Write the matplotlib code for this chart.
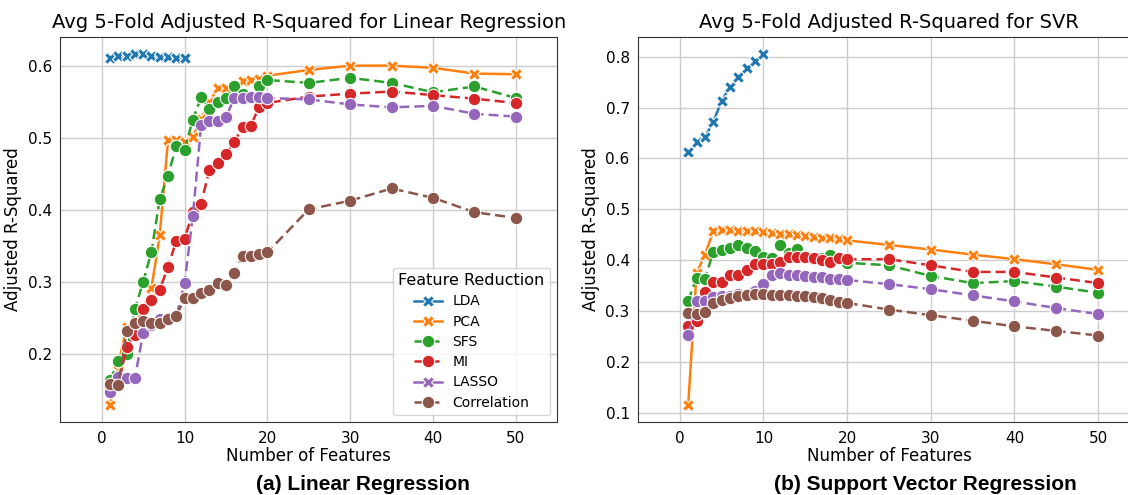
import numpy as np
import matplotlib
matplotlib.use("Agg")
import matplotlib.pyplot as plt
from matplotlib.lines import Line2D

# number of features
n_feat = list(range(1, 21)) + [25, 30, 35, 40, 45, 50]
n_lda = list(range(1, 11))

methods = ["LDA", "PCA", "SFS", "MI", "LASSO", "Correlation"]
colors = ["#1f77b4", "#ff7f0e", "#2ca02c", "#d62728", "#9467bd", "#8c564b"]

# Linear Regression - avg 5-fold adjusted R^2
lr_lda = [0.611, 0.615, 0.615, 0.617, 0.617, 0.615, 0.613, 0.613, 0.612, 0.612]
lr_pca = [0.129, 0.185, 0.237, 0.240, 0.262, 0.291, 0.365, 0.497, 0.497, 0.495,
          0.502, 0.527, 0.550, 0.570, 0.570, 0.572, 0.579, 0.581, 0.583, 0.587,
          0.595, 0.601, 0.601, 0.598, 0.590, 0.589]
lr_sfs = [0.163, 0.190, 0.200, 0.262, 0.300, 0.342, 0.415, 0.448, 0.489, 0.484,
          0.526, 0.557, 0.541, 0.551, 0.556, 0.572, 0.562, 0.557, 0.573, 0.581,
          0.577, 0.584, 0.577, 0.564, 0.572, 0.556]
lr_mi = [0.155, 0.157, 0.209, 0.226, 0.262, 0.275, 0.289, 0.321, 0.357, 0.360,
         0.397, 0.409, 0.456, 0.465, 0.478, 0.495, 0.515, 0.517, 0.544, 0.549,
         0.558, 0.562, 0.565, 0.560, 0.555, 0.549]
lr_lasso = [0.147, 0.168, 0.166, 0.166, 0.229, 0.240, 0.249, 0.250, 0.252, 0.298,
            0.392, 0.518, 0.524, 0.524, 0.529, 0.556, 0.556, 0.558, 0.557, 0.556,
            0.554, 0.547, 0.543, 0.545, 0.534, 0.530]
lr_corr = [0.158, 0.156, 0.231, 0.243, 0.246, 0.243, 0.243, 0.249, 0.252, 0.278,
           0.278, 0.284, 0.289, 0.298, 0.296, 0.313, 0.336, 0.336, 0.339, 0.341,
           0.401, 0.413, 0.430, 0.417, 0.397, 0.389]

# SVR - avg 5-fold adjusted R^2
svr_lda = [0.613, 0.633, 0.642, 0.672, 0.713, 0.741, 0.761, 0.778, 0.792, 0.805]
svr_pca = [0.116, 0.374, 0.411, 0.457, 0.460, 0.460, 0.458, 0.458, 0.458, 0.455,
           0.454, 0.452, 0.451, 0.449, 0.448, 0.445, 0.444, 0.443, 0.441, 0.439,
           0.430, 0.421, 0.411, 0.402, 0.392, 0.381]
svr_sfs = [0.320, 0.366, 0.364, 0.416, 0.421, 0.424, 0.430, 0.424, 0.419, 0.406,
           0.404, 0.430, 0.415, 0.423, 0.408, 0.402, 0.405, 0.411, 0.402, 0.395,
           0.390, 0.369, 0.355, 0.359, 0.348, 0.336]
svr_mi = [0.271, 0.280, 0.338, 0.358, 0.358, 0.371, 0.371, 0.380, 0.392, 0.393,
          0.393, 0.397, 0.407, 0.406, 0.406, 0.404, 0.400, 0.397, 0.404, 0.402,
          0.402, 0.390, 0.377, 0.377, 0.366, 0.355]
svr_lasso = [0.253, 0.320, 0.319, 0.327, 0.330, 0.330, 0.333, 0.334, 0.340, 0.354,
             0.370, 0.374, 0.371, 0.370, 0.368, 0.367, 0.367, 0.364, 0.363, 0.361,
             0.353, 0.343, 0.331, 0.319, 0.306, 0.294]
svr_corr = [0.296, 0.294, 0.299, 0.315, 0.322, 0.325, 0.329, 0.332, 0.333, 0.333,
            0.332, 0.331, 0.331, 0.330, 0.329, 0.327, 0.325, 0.322, 0.318, 0.316,
            0.303, 0.292, 0.281, 0.270, 0.261, 0.252]

markers = ["X", "X", "o", "o", "o", "o"]
solid = [True, True, False, False, False, False]


def draw(ax, series, title):
    for i, (name, ys) in enumerate(zip(methods, series)):
        xs = n_lda if name == "LDA" else n_feat
        ls = "-" if solid[i] else (0, (4, 2))
        ax.plot(xs, ys, color=colors[i], linestyle=ls, linewidth=1.8,
                marker=markers[i], markersize=9, markeredgecolor="white",
                markeredgewidth=0.8, label=name)
    ax.set_xlim(-5, 55)
    ax.set_title(title, fontsize=14)
    ax.set_xlabel("Number of Features", fontsize=12, labelpad=1)
    ax.set_ylabel("Adjusted R-Squared", fontsize=12)
    ax.grid(True, color="#cccccc", linewidth=1)
    ax.set_axisbelow(True)
    ax.tick_params(length=0, pad=6, labelsize=11)
    for s in ax.spines.values():
        s.set_color("#333333")


fig = plt.figure(figsize=(11.28, 4.95), dpi=100)
ax1 = fig.add_axes([0.0535, 0.147, 0.4405, 0.779])
ax2 = fig.add_axes([0.5656, 0.147, 0.445, 0.779])

draw(ax1, [lr_lda, lr_pca, lr_sfs, lr_mi, lr_lasso, lr_corr],
     "Avg 5-Fold Adjusted R-Squared for Linear Regression")
draw(ax2, [svr_lda, svr_pca, svr_sfs, svr_mi, svr_lasso, svr_corr],
     "Avg 5-Fold Adjusted R-Squared for SVR")
ax2.set_yticks(np.arange(0.1, 0.81, 0.1))

# legend as in the original (LASSO shown with X / solid)
leg_mk = ["X", "X", "o", "o", "X", "o"]
leg_ls = ["-", "-", (0, (4, 2)), (0, (4, 2)), "-", (0, (4, 2))]
handles = [Line2D([0], [0], color=c, marker=m, linestyle=l, linewidth=1.8,
                  markersize=9, markeredgecolor="white", markeredgewidth=0.8)
           for c, m, l in zip(colors, leg_mk, leg_ls)]
ax1.legend(handles, methods, title="Feature Reduction", loc="lower right",
           fontsize=10, title_fontsize=11.5, labelspacing=0.45)

fig.text(0.322, 0.022, "(a) Linear Regression", fontsize=15, fontweight="bold",
         family="Liberation Sans", ha="center", va="center")
fig.text(0.82, 0.022, "(b) Support Vector Regression", fontsize=15,
         fontweight="bold", family="Liberation Sans", ha="center", va="center")

fig.savefig("out.png", dpi=100)
